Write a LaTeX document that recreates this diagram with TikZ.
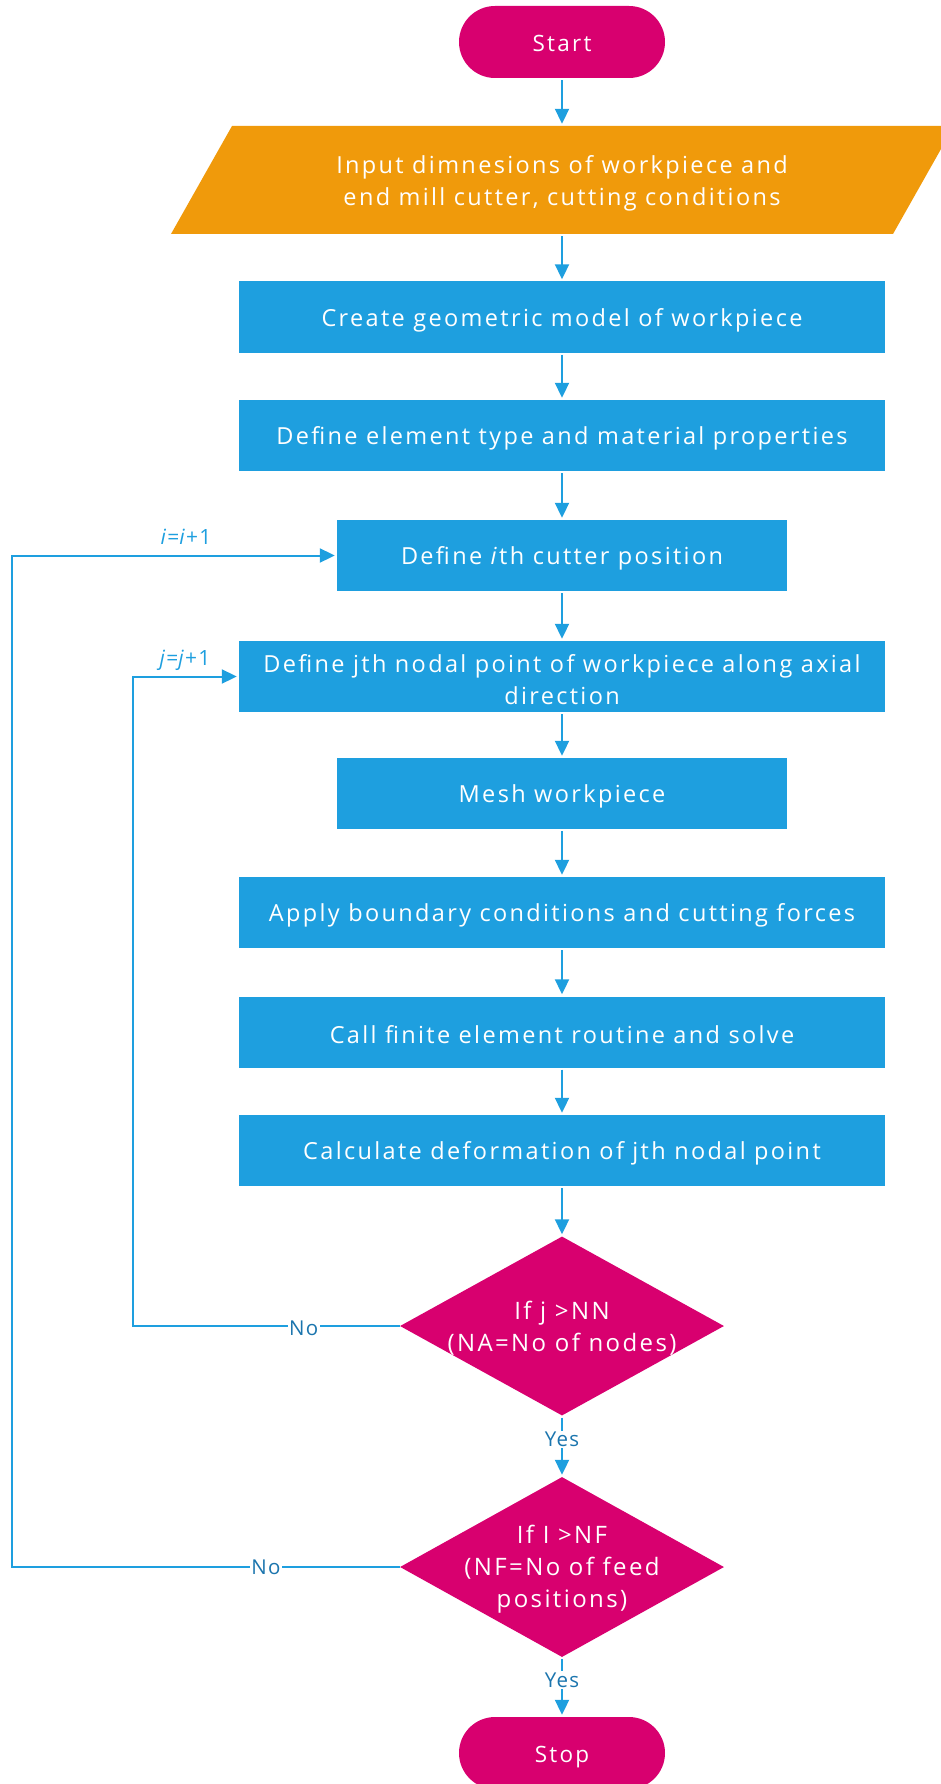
\documentclass[tikz,border=0pt]{standalone}
\usepackage{fontspec}
\setmainfont{Open Sans}[LetterSpace=10]
\newfontfamily\lblfont{Open Sans}[LetterSpace=6]
\usetikzlibrary{arrows.meta,shapes.geometric}
\definecolor{mag}{HTML}{D8006F}
\definecolor{org}{HTML}{F09A0B}
\definecolor{bl}{HTML}{1E9FDF}
\definecolor{lbl}{HTML}{1B75AE}
\begin{document}
\begin{tikzpicture}[x=1pt,y=-1pt,
  txt/.style={text=white, align=center, inner sep=0pt, yshift=-3pt, font=\fontsize{23.5}{32}\selectfont},
  dtxt/.style={txt, yshift=1pt, font=\fontsize{24}{32}\selectfont},
  ttxt/.style={txt, yshift=3pt, font=\fontsize{22.5}{32}\selectfont},
  box/.style={fill=bl, minimum height=71pt, inner sep=0pt},
  wide/.style={box, minimum width=646pt},
  narrow/.style={box, minimum width=450pt},
  term/.style={fill=mag, minimum width=206pt, minimum height=72pt, inner sep=0pt, rounded corners=36pt},
  dec/.style={diamond, fill=mag, minimum width=324pt, minimum height=179pt, inner sep=0pt},
  flow/.style={draw=bl, line width=2pt, -{Triangle[length=15pt,width=14pt]}, shorten >=2pt, shorten <=2pt},
  lab/.style={text=lbl, fill=white, inner sep=1.5pt, font=\lblfont\fontsize{20.5}{22}\selectfont},
  inc/.style={text=bl, inner sep=0pt, font=\lblfont\fontsize{21}{22}\selectfont}]
\useasboundingbox (0,0) rectangle (941,1784);
% terminals
\node[term] (start) at (562,42) {};
\node[ttxt, yshift=-1pt] (tstart) at (start) {Start};
% input parallelogram
\fill[org] (232,126) -- (954,126) -- (893,234) -- (171,234) -- cycle;
\node[minimum height=108pt, minimum width=600pt, inner sep=0pt] (inp) at (562,180) {};
\node[txt] (tinp) at (inp) {Input dimnesions of workpiece and\\end mill cutter, cutting conditions};
% process boxes
\node[wide] (n1) at (562,317) {};
\node[txt] (t1) at (n1) {Create geometric model of workpiece};
\node[wide] (n2) at (562,435.5) {};
\node[txt] (t2) at (n2) {Define element type and material properties};
\node[narrow] (n3) at (562,555.5) {};
\node[txt] (t3) at (n3) {Define \textit{i}th cutter position};
\node[wide] (n4) at (562,676.5) {};
\node[txt] (t4) at (n4) {Define jth nodal point of workpiece along axial\\direction};
\node[narrow] (n5) at (562,793.5) {};
\node[txt] (t5) at (n5) {Mesh workpiece};
\node[wide] (n6) at (562,912.5) {};
\node[txt] (t6) at (n6) {Apply boundary conditions and cutting forces};
\node[wide] (n7) at (562,1032) {};
\node[txt] (t7) at (n7) {Call finite element routine and solve};
\node[wide] (n8) at (562,1150.5) {};
\node[txt] (t8) at (n8) {Calculate deformation of jth nodal point};
% decisions
\node[dec] (d1) at (562,1326) {};
\node[dtxt] (td1) at (d1) {If j >NN\\(NA=No of nodes)};
\node[dec, minimum height=180pt] (d2) at (562,1567) {};
\node[dtxt] (td2) at (d2) {If I >NF\\(NF=No of feed\\positions)};
\node[term] (stop) at (562,1753) {};
\node[ttxt, yshift=-4.5pt] (tstop) at (stop) {Stop};
% connectors
\draw[flow] (start) -- (inp);
\draw[flow] (inp) -- (n1);
\draw[flow] (n1) -- (n2);
\draw[flow] (n2) -- (n3);
\draw[flow] (n3) -- (n4);
\draw[flow] (n4) -- (n5);
\draw[flow] (n5) -- (n6);
\draw[flow] (n6) -- (n7);
\draw[flow] (n7) -- (n8);
\draw[flow] (n8) -- (d1);
\draw[flow] (d1.south) -- node[lab, pos=0.39] {Yes} (d2.north);
\draw[flow] (d2.south) -- node[lab, pos=0.38] {Yes} (stop.north);
\coordinate (c1) at (133,1326);
\coordinate (c2) at (12,1567);
\draw[flow, shorten <=0pt] (d1.west) -- node[lab, pos=0.36, yshift=-2pt] {No} (c1) |- (n4.west);
\draw[flow, shorten <=0pt] (d2.west) -- node[lab, pos=0.345] {No} (c2) |- (n3.west);
\node[inc] (li) at (186,537) {\textit{i}=\textit{i}+1};
\node[inc] (lj) at (185,660) {\textit{j}=\textit{j}+1};
\end{tikzpicture}
\end{document}
